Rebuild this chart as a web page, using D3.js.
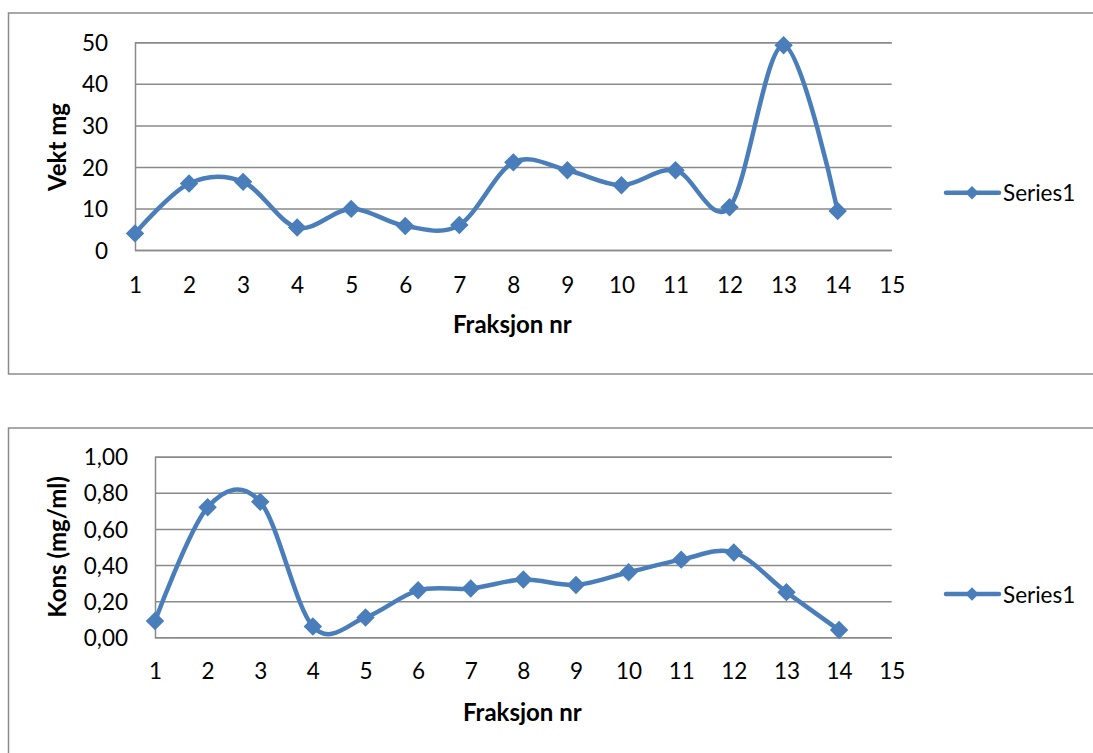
<!DOCTYPE html>
<html>
<head>
<meta charset="utf-8">
<script src="https://cdn.jsdelivr.net/npm/d3@7"></script>
<style>
  html, body { margin: 0; padding: 0; background: #fff; }
  svg { display: block; }
  text { font-family: Lato, "Open Sans", "DejaVu Sans", sans-serif; fill: #000; }
</style>
</head>
<body>
<svg id="chart" width="1093" height="753"></svg>
<script>
// Fraction numbers and the two measured series
const fractions = [1, 2, 3, 4, 5, 6, 7, 8, 9, 10, 11, 12, 13, 14];
const vektMg = [4.0, 16.0, 16.4, 5.4, 9.9, 5.8, 6.0, 21.1, 19.2, 15.6, 19.2, 10.3, 49.3, 9.4];
const konsMgMl = [0.09, 0.72, 0.75, 0.06, 0.11, 0.26, 0.27, 0.32, 0.29, 0.36, 0.43, 0.47, 0.25, 0.04];

// Axis tick labels
const xTickLabels = [1, 2, 3, 4, 5, 6, 7, 8, 9, 10, 11, 12, 13, 14, 15];
const vektTicks = [0, 10, 20, 30, 40, 50];
const konsTicks = [0, 0.2, 0.4, 0.6, 0.8, 1.0];

const seriesName = "Series1";
const xTitle = "Fraksjon nr";

const svg = d3.select("#chart");
const blue = "#4a7ebb";
const grid = "#8a8a8a";
const fs = 22.5;     // regular label size
const fsBold = 24;   // axis title size

function panel(opts) {
  const g = svg.append("g");

  // chart frame
  g.append("rect")
    .attr("x", 8.5).attr("y", opts.frameTop + 0.5)
    .attr("width", 1200).attr("height", opts.frameHeight)
    .attr("fill", "#fff").attr("stroke", "#8c8c8c").attr("stroke-width", 1.5);

  const x = d3.scaleLinear().domain([1, 15]).range([opts.left, opts.right]);
  const y = d3.scaleLinear().domain(opts.domain).range([opts.bottom, opts.top]);

  // horizontal gridlines
  const yAxis = d3.axisLeft(y).tickValues(opts.ticks)
    .tickSize(-(opts.right - opts.left)).tickFormat(opts.format).tickPadding(27);
  const ya = g.append("g").attr("transform", `translate(${opts.left},0)`).call(yAxis);
  ya.select(".domain").attr("stroke", grid).attr("stroke-width", 1.5);
  ya.selectAll(".tick line").attr("stroke", grid).attr("stroke-width", 1.5);
  ya.selectAll(".tick text")
    .attr("font-size", fs).attr("dy", "0.36em")
    .attr("x", -(opts.left - opts.yLabelRight));

  // category labels along the bottom
  const xAxis = d3.axisBottom(x).tickValues(xTickLabels).tickSize(0).tickFormat(d3.format("d"));
  const xa = g.append("g").attr("transform", `translate(0,${opts.bottom})`).call(xAxis);
  xa.select(".domain").remove();
  xa.selectAll(".tick text")
    .attr("font-size", fs).attr("dy", null)
    .attr("y", opts.xLabelBase - opts.bottom);

  // axis titles
  g.append("text")
    .attr("transform", `translate(66,${opts.yTitleCenter}) rotate(-90)`)
    .attr("text-anchor", "middle").attr("font-size", fsBold).attr("font-weight", "bold")
    .text(opts.yTitle);
  g.append("text")
    .attr("x", (opts.left + opts.right) / 2 + opts.xTitleShift).attr("y", opts.xTitleBase)
    .attr("text-anchor", "middle").attr("font-size", fsBold).attr("font-weight", "bold")
    .text(xTitle);

  // smoothed series line
  const pts = fractions.map((f, i) => [x(f), y(opts.values[i])]);
  g.append("path")
    .attr("d", d3.line().curve(d3.curveCatmullRom.alpha(0))(pts))
    .attr("fill", "none").attr("stroke", blue).attr("stroke-width", 4.5)
    .attr("stroke-linejoin", "round").attr("stroke-linecap", "round");

  // diamond markers
  const diamond = d3.symbol().type(d3.symbolSquare).size(170);
  g.selectAll(".marker").data(pts).join("path")
    .attr("class", "marker")
    .attr("d", diamond)
    .attr("transform", d => `translate(${d[0]},${d[1]}) rotate(45)`)
    .attr("fill", blue);

  // legend
  const ly = opts.legendY;
  g.append("line").attr("x1", 946).attr("x2", 999).attr("y1", ly).attr("y2", ly)
    .attr("stroke", blue).attr("stroke-width", 4.5).attr("stroke-linecap", "round");
  g.append("path").attr("d", d3.symbol().type(d3.symbolSquare).size(90))
    .attr("transform", `translate(972,${ly}) rotate(45)`).attr("fill", blue);
  g.append("text").attr("x", 1003).attr("y", ly + 8.5).attr("font-size", fs).text(seriesName);
}

panel({
  frameTop: 12.5, frameHeight: 361,
  left: 135, right: 891.7, top: 42.3, bottom: 250,
  domain: [0, 50], ticks: vektTicks, format: d3.format("d"),
  values: vektMg, yLabelRight: 108, xLabelBase: 293,
  yTitle: "Vekt mg", yTitleCenter: 147,
  xTitleBase: 333, xTitleShift: -1, legendY: 192.7
});

panel({
  frameTop: 427.5, frameHeight: 400,
  left: 155, right: 891.7, top: 456.7, bottom: 637.3,
  domain: [0, 1], ticks: konsTicks, format: d => d3.format(".2f")(d).replace(".", ","),
  values: konsMgMl, yLabelRight: 128, xLabelBase: 679.5,
  yTitle: "Kons (mg/ml)", yTitleCenter: 547,
  xTitleBase: 720.5, xTitleShift: -1, legendY: 594
});
</script>
</body>
</html>
